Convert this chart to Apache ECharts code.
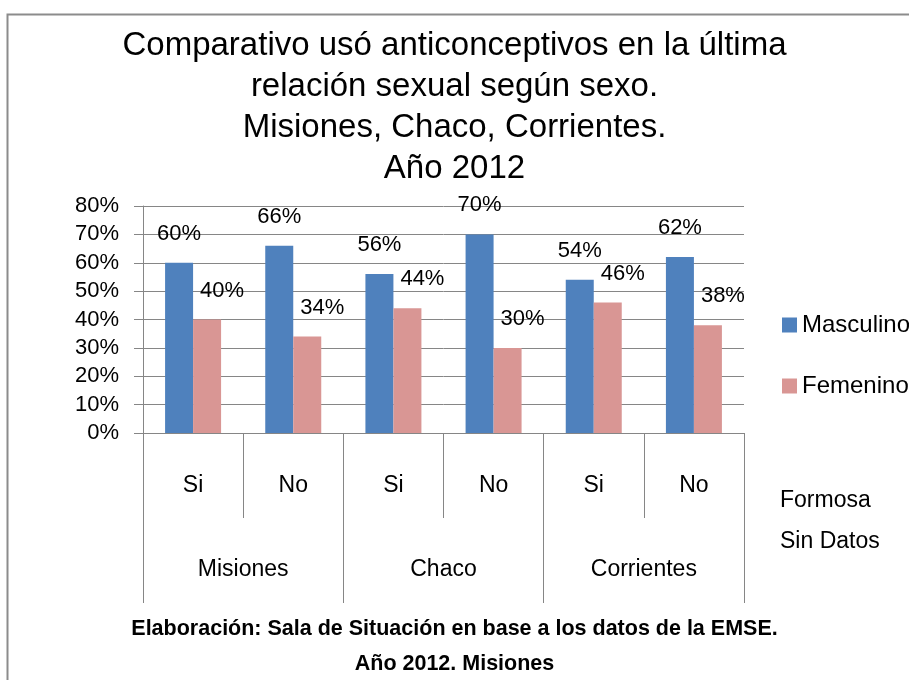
<!DOCTYPE html>
<html>
<head>
<meta charset="utf-8">
<script src="https://cdn.jsdelivr.net/npm/echarts@6/dist/echarts.min.js"></script>
<style>html,body{margin:0;padding:0;background:#fff}#c{width:909px;height:680px}</style>
</head>
<body>
<div id="c"></div>
<script>
var categories = ['Si', 'No', 'Si', 'No', 'Si', 'No'];
var groups = ['Misiones', 'Chaco', 'Corrientes'];
var masculino = [60, 66, 56, 70, 54, 62];
var femenino = [40, 34, 44, 30, 46, 38];
var seriesNames = ['Masculino', 'Femenino'];
var titleText = 'Comparativo usó anticonceptivos en la última\nrelación sexual según sexo.\nMisiones, Chaco, Corrientes.\nAño 2012';
var footerText = 'Elaboración: Sala de Situación en base a los datos de la EMSE.\nAño 2012. Misiones';
var noteText = 'Formosa\nSin Datos';

var FONT = '"Liberation Sans", Arial, sans-serif';
var chart = echarts.init(document.getElementById('c'));
chart.setOption({
  animation: false,
  backgroundColor: '#fff',
  title: [{
    text: titleText, left: 'center', top: 20,
    textStyle: { fontFamily: FONT, fontSize: 33, fontWeight: 'normal', color: '#000', lineHeight: 41 }
  }, {
    text: footerText, left: 'center', top: 607,
    textStyle: { fontFamily: FONT, fontSize: 21.5, fontWeight: 'bold', color: '#000', lineHeight: 35 }
  }],
  legend: {
    orient: 'vertical', left: 777, top: 308,
    itemWidth: 15, itemHeight: 15, itemGap: 37,
    icon: 'rect',
    textStyle: { fontFamily: FONT, fontSize: 24, color: '#000' },
    data: seriesNames
  },
  grid: { left: 143, right: 165, top: 206, bottom: 247, containLabel: false },
  xAxis: [{
    type: 'category', data: categories, position: 'bottom',
    axisLine: { show: true, lineStyle: { color: '#868686' } },
    axisTick: { show: true, length: 85, interval: 0, lineStyle: { color: '#868686' } },
    axisLabel: { margin: 41, interval: 0, fontFamily: FONT, fontSize: 23, color: '#000' }
  }, {
    type: 'category', data: groups, position: 'bottom',
    axisLine: { show: false },
    axisTick: { show: true, length: 170, interval: 0, lineStyle: { color: '#868686' } },
    axisLabel: { margin: 125, interval: 0, fontFamily: FONT, fontSize: 23, color: '#000' }
  }],
  yAxis: {
    type: 'value', min: 0, max: 80, interval: 10,
    axisLine: { show: true, lineStyle: { color: '#868686' } },
    axisTick: { show: true, length: 9, lineStyle: { color: '#868686' } },
    splitLine: { show: true, lineStyle: { color: '#868686', width: 1 } },
    axisLabel: { formatter: '{value}%', margin: 24, fontFamily: FONT, fontSize: 22, color: '#000' }
  },
  series: [{
    name: seriesNames[0], type: 'bar', data: masculino, xAxisIndex: 0,
    barWidth: 28, barGap: '0%',
    itemStyle: { color: '#4F81BD' },
    label: { show: true, position: 'top', distance: 18, formatter: '{c}%', fontFamily: FONT, fontSize: 22, color: '#000' }
  }, {
    name: seriesNames[1], type: 'bar', data: femenino, xAxisIndex: 0,
    barWidth: 28, barGap: '0%',
    itemStyle: { color: '#D99694' },
    label: { show: true, position: 'top', distance: 18, offset: [15, 0], formatter: '{c}%', fontFamily: FONT, fontSize: 22, color: '#000' }
  }],
  graphic: [{
    type: 'rect', left: 5, top: 12, silent: true,
    shape: { x: 0, y: 0, width: 920, height: 700 },
    style: { fill: 'none', stroke: '#8c8c8c', lineWidth: 2 }
  }, {
    type: 'text', left: 780, top: 480,
    style: { text: noteText, font: '23px ' + FONT, fill: '#000', lineHeight: 41 }
  }]
});
</script>
</body>
</html>
